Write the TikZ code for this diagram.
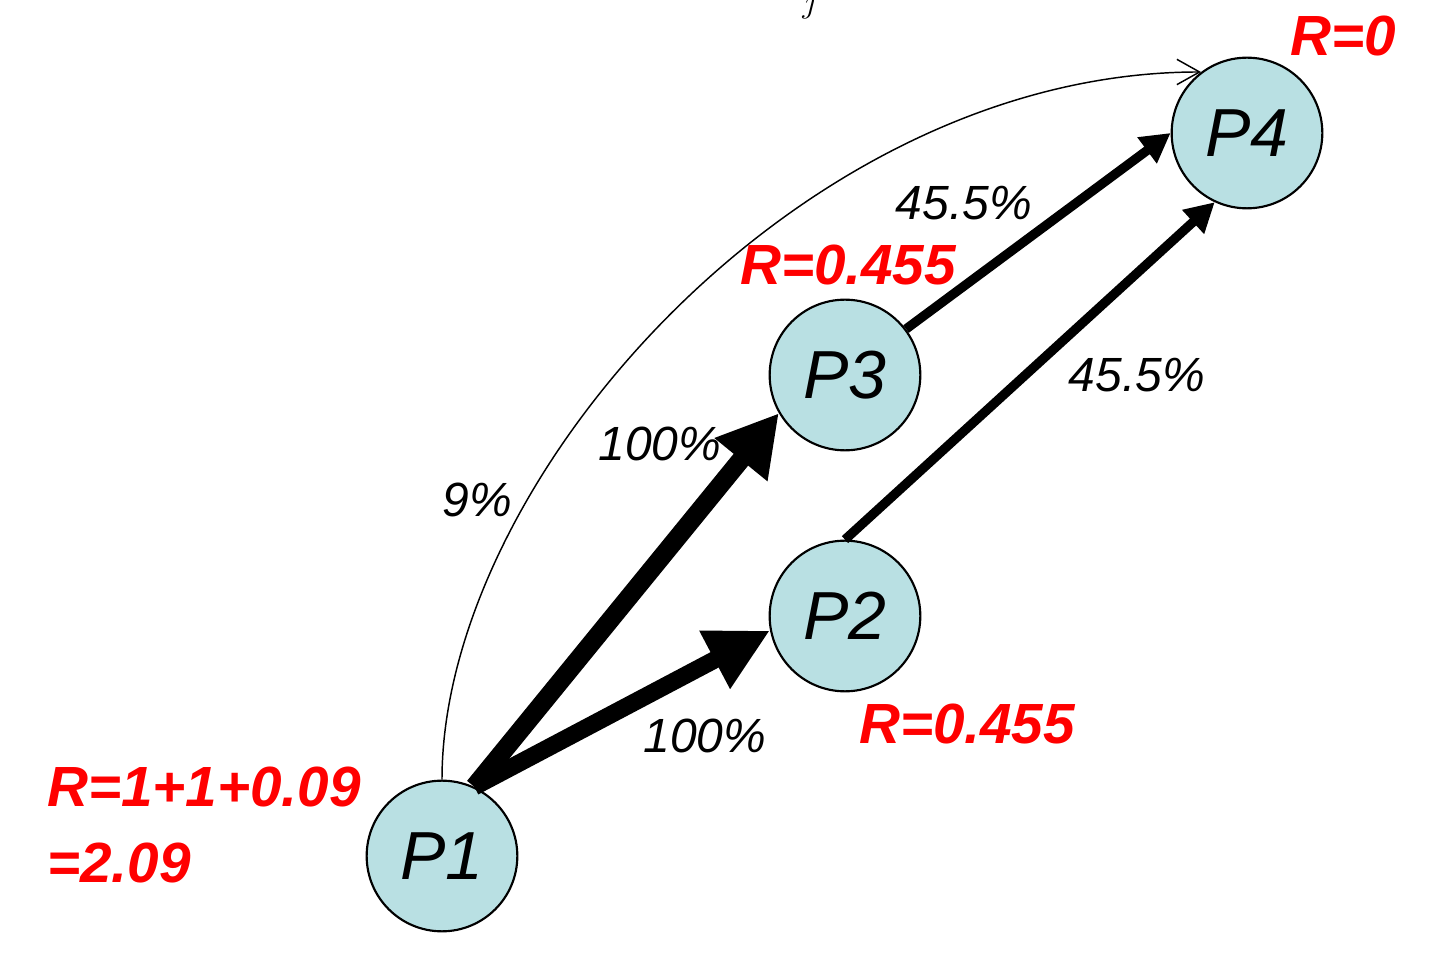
\documentclass[tikz,border=0pt]{standalone}
\usepackage{fontspec}
\setmainfont{Liberation Sans}
\usetikzlibrary{arrows.meta}
\definecolor{nodefill}{RGB}{185,224,227}
\definecolor{rlabel}{RGB}{255,0,0}
\begin{document}
\begin{tikzpicture}[x=0.75pt,y=-0.75pt,
  proc/.style={circle,draw=black,line width=1.6pt,fill=nodefill,minimum size=113pt,inner sep=0pt,
    font=\fontsize{51pt}{51pt}\selectfont\itshape},
  pct/.style={font=\fontsize{36pt}{36pt}\selectfont\itshape,inner sep=0pt},
  rval/.style={font=\fontsize{42.5pt}{42.5pt}\selectfont\bfseries\itshape,text=rlabel,inner sep=0pt},
  heavy/.style={line width=14pt,-{Triangle[length=45pt,width=48pt]}},
  medium/.style={line width=7pt,-{Triangle[length=22pt,width=23pt]}},
  thin/.style={line width=1.1pt,-{Straight Barb[length=17pt,width=19pt,line width=1.1pt]}}
]
\useasboundingbox (0,0) rectangle (1454,969);
\node[proc] (P1) at (442,856) {P1};
\node[proc] (P2) at (845,616) {P2};
\node[proc] (P3) at (845,375) {P3};
\node[proc] (P4) at (1247,133) {P4};

\draw[thin] (P1.north) .. controls +(0,-300) and +(-400,0) .. (P4.127);
\draw[heavy] (P1.65) -- (P3.210);
\draw[heavy,line width=13pt,-{Triangle[length=47pt,width=46pt]}] (P1.65) -- (P2.191);
\draw[medium] (P3.37) -- (P4.180);
\draw[medium] (P2.north) -- (P4.245);

\node[pct] (l1) at (660,444) {100\%};
\node[pct] (l2) at (705,736) {100\%};
\node[pct] (l3) at (477,500) {9\%};
\node[pct] (l4) at (964,203) {45.5\%};
\node[pct] (l5) at (1137,375) {45.5\%};

\node[rval] (r4) at (1343,36) {R=0};
\node[rval] (r3) at (848,265) {R=0.455};
\node[rval] (r2) at (967,724) {R=0.455};
\node[rval,anchor=west] (r1a) at (47,787) {R=1+1+0.09};
\node[rval,anchor=west] (r1b) at (47,863) {=2.09};

\node[anchor=base,inner sep=0pt,font=\fontsize{27pt}{27pt}\selectfont] (jj) at (810,13) {$j$};
\end{tikzpicture}
\end{document}
